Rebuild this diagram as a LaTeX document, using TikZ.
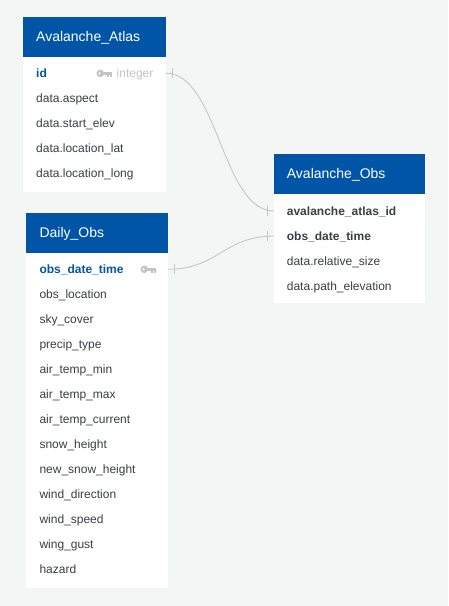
\documentclass[tikz,border=0pt]{standalone}
\usepackage{fontspec}
\setmainfont{Liberation Sans}
\usetikzlibrary{calc}
\definecolor{bg}{HTML}{F4F5F5}
\definecolor{hdr}{HTML}{0055A6}
\definecolor{txt}{HTML}{3A3F45}
\definecolor{keyc}{HTML}{C2C4C6}
\definecolor{linec}{HTML}{C6C6C6}
\tikzset{
  tbody/.style={fill=white, draw=none, inner sep=0pt, outer sep=0pt, anchor=north west},
  thead/.style={fill=hdr, draw=none, inner sep=0pt, outer sep=0pt, anchor=north west},
  htext/.style={text=white, font=\fontsize{14}{16}\selectfont, anchor=mid west, inner sep=0pt, yshift=-2pt},
  rowtext/.style={text=txt, font=\fontsize{12}{14}\selectfont, anchor=mid west, inner sep=0pt, yshift=-1.8pt},
  pktext/.style={text=hdr, font=\fontsize{12}{14}\selectfont\bfseries, anchor=mid west, inner sep=0pt, yshift=-1.8pt},
  fktext/.style={text=txt, font=\fontsize{12}{14}\selectfont\bfseries, anchor=mid west, inner sep=0pt, yshift=-1.8pt},
  typetext/.style={text=keyc, font=\fontsize{12}{14}\selectfont, anchor=mid west, inner sep=0pt, yshift=-1.8pt},
  relline/.style={draw=linec, line width=0.9pt},
  keyicon/.pic={
    \fill[keyc] (3.8,0) circle (3.8);
    \fill[white] (3.1,0) circle (1.2);
    \fill[keyc] (6,-1.6) rectangle (15,1.6);
    \fill[keyc] (10.3,1.6) rectangle (12.3,3.8);
    \fill[keyc] (13,1.6) rectangle (15,3.2);
  }
}
\begin{document}
\begin{tikzpicture}[x=1pt,y=-1pt]
\fill[bg] (0,0) rectangle (448,606);
\useasboundingbox (0,0) rectangle (448,606);

% ---------- Avalanche_Atlas ----------
\node[tbody, minimum width=143pt, minimum height=175pt] (atlasT) at (23,16.7) {};
\node[thead, minimum width=143pt, minimum height=40pt] (atlasH) at (23,16.7) {};
\node[htext] (atlasTitle) at (36,36.7) {Avalanche\_Atlas};
\node[pktext] (atlasId) at (36,73.3) {id};
\pic at (96.5,73.3) {keyicon};
\node[typetext] (atlasIdType) at (116.5,73.3) {integer};
\node[rowtext] (atlasAspect) at (36,98.5) {data.aspect};
\node[rowtext] (atlasElev) at (36,123.5) {data.start\_elev};
\node[rowtext] (atlasLat) at (36,148.5) {data.location\_lat};
\node[rowtext] (atlasLong) at (36,173.5) {data.location\_long};

% ---------- Daily_Obs ----------
\node[tbody, minimum width=142pt, minimum height=375pt] (dailyT) at (26,213) {};
\node[thead, minimum width=142pt, minimum height=39.7pt] (dailyH) at (26,213) {};
\node[htext] (dailyTitle) at (39.3,232.8) {Daily\_Obs};
\node[pktext] (dailyObs) at (39.3,269.3) {obs\_date\_time};
\pic at (140.5,269.3) {keyicon};
\node[rowtext] (dailyLoc) at (39.3,294.3) {obs\_location};
\node[rowtext] (dailySky) at (39.3,319.3) {sky\_cover};
\node[rowtext] (dailyPrecip) at (39.3,344.3) {precip\_type};
\node[rowtext] (dailyTmin) at (39.3,369.3) {air\_temp\_min};
\node[rowtext] (dailyTmax) at (39.3,394.3) {air\_temp\_max};
\node[rowtext] (dailyTcur) at (39.3,419.3) {air\_temp\_current};
\node[rowtext] (dailySnow) at (39.3,444.3) {snow\_height};
\node[rowtext] (dailyNew) at (39.3,469.3) {new\_snow\_height};
\node[rowtext] (dailyDir) at (39.3,494.3) {wind\_direction};
\node[rowtext] (dailySpeed) at (39.3,519.3) {wind\_speed};
\node[rowtext] (dailyGust) at (39.3,544.3) {wing\_gust};
\node[rowtext] (dailyHaz) at (39.3,569.3) {hazard};

% ---------- Avalanche_Obs ----------
\node[tbody, minimum width=150.5pt, minimum height=149pt] (obsT) at (274,154.3) {};
\node[thead, minimum width=150.5pt, minimum height=39.7pt] (obsH) at (274,154.3) {};
\node[htext] (obsTitle) at (286.7,174.2) {Avalanche\_Obs};
\node[fktext] (obsAtlas) at (286.7,211) {avalanche\_atlas\_id};
\node[fktext] (obsTime) at (286.7,236) {obs\_date\_time};
\node[rowtext] (obsSize) at (286.7,261) {data.relative\_size};
\node[rowtext] (obsPath) at (286.7,286) {data.path\_elevation};

% ---------- connector ends ----------
\coordinate (c1a) at (166,73.3);
\coordinate (c1b) at (274,211);
\coordinate (c2a) at (168,269.3);
\coordinate (c2b) at (274,236);

\draw[relline] (c1a) .. controls ($(c1a)+(52,0)$) and ($(c1b)+(-52,0)$) .. (c1b);
\draw[relline] (c2a) .. controls ($(c2a)+(50,0)$) and ($(c2b)+(-50,0)$) .. (c2b);

% crow's-foot "one" ticks
\draw[relline] ($(c1a)+(6,-5)$) -- ($(c1a)+(6,5)$);
\draw[relline] ($(c1b)+(-7,-5)$) -- ($(c1b)+(-7,5)$);
\draw[relline] ($(c2a)+(6,-5)$) -- ($(c2a)+(6,5)$);
\draw[relline] ($(c2b)+(-7,-5)$) -- ($(c2b)+(-7,5)$);
\end{tikzpicture}
\end{document}
